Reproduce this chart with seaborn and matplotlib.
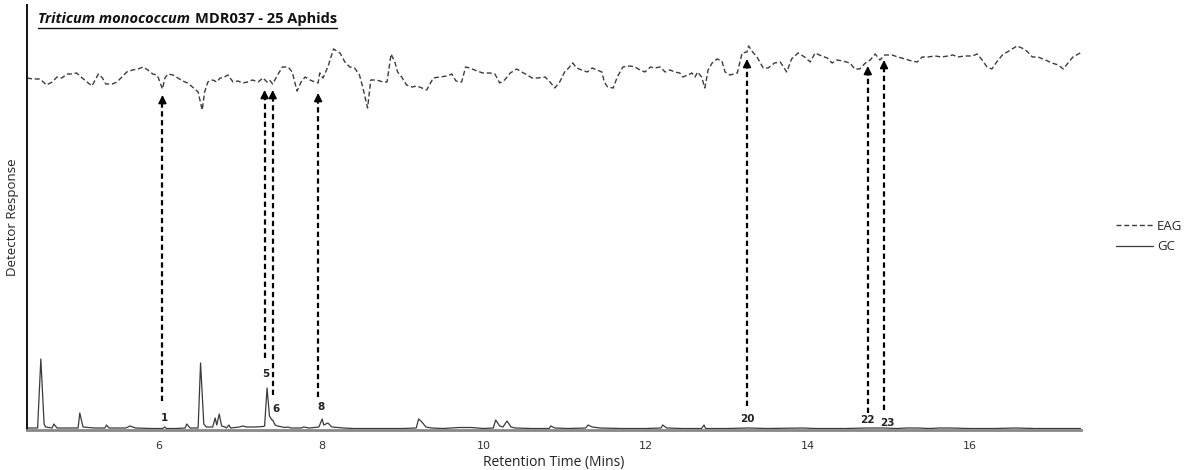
import matplotlib
matplotlib.use("Agg")
import matplotlib.pyplot as plt
import seaborn as sns
import pandas as pd
from matplotlib.lines import Line2D

# ---------------- data ----------------
# EAG trace: retention time (min) and response (arbitrary units)
eag_t = [4.37, 4.44, 4.53, 4.61, 4.68, 4.74, 4.80, 4.86, 4.92, 4.98, 5.05, 5.11, 5.17, 5.21,
         5.25, 5.30, 5.34, 5.42, 5.48, 5.54, 5.60, 5.67, 5.74, 5.80, 5.86, 5.92, 5.97, 5.99,
         6.04, 6.07, 6.11, 6.17, 6.23, 6.29, 6.35, 6.41, 6.48, 6.53, 6.56, 6.60, 6.66, 6.71,
         6.75, 6.78, 6.85, 6.91, 6.97, 7.03, 7.09, 7.15, 7.22, 7.28, 7.33, 7.36, 7.40, 7.46,
         7.52, 7.59, 7.64, 7.70, 7.75, 7.80, 7.86, 7.92, 7.96, 7.98, 8.02, 8.08, 8.15, 8.23,
         8.29, 8.35, 8.41, 8.47, 8.51, 8.57, 8.61, 8.68, 8.76, 8.81, 8.86, 8.91, 8.94, 8.99,
         9.05, 9.12, 9.18, 9.24, 9.30, 9.34, 9.38, 9.46, 9.55, 9.61, 9.66, 9.73, 9.78, 9.83,
         9.92, 9.99, 10.08, 10.14, 10.20, 10.26, 10.33, 10.41, 10.47, 10.54, 10.60, 10.67,
         10.76, 10.82, 10.88, 10.94, 11.00, 11.05, 11.10, 11.15, 11.21, 11.28, 11.34, 11.40,
         11.46, 11.49, 11.53, 11.60, 11.65, 11.72, 11.81, 11.87, 11.93, 11.99, 12.06, 12.11,
         12.18, 12.24, 12.30, 12.36, 12.42, 12.46, 12.52, 12.57, 12.61, 12.64, 12.69, 12.73,
         12.77, 12.82, 12.88, 12.94, 12.98, 13.04, 13.13, 13.19, 13.25, 13.27, 13.32, 13.38,
         13.45, 13.51, 13.59, 13.66, 13.74, 13.80, 13.88, 13.96, 14.03, 14.09, 14.17, 14.24,
         14.30, 14.36, 14.43, 14.52, 14.58, 14.64, 14.71, 14.77, 14.83, 14.89, 14.95, 15.04,
         15.11, 15.20, 15.28, 15.35, 15.41, 15.48, 15.57, 15.65, 15.73, 15.79, 15.85, 15.94,
         16.03, 16.09, 16.15, 16.21, 16.27, 16.33, 16.40, 16.46, 16.52, 16.58, 16.64, 16.70,
         16.77, 16.84, 16.93, 17.01, 17.09, 17.15, 17.21, 17.27, 17.36]
eag_v = [352, 351, 351, 345, 348, 353, 352, 356, 356, 357, 352, 348, 344, 350,
         356, 352, 346, 346, 348, 353, 358, 360, 361, 363, 360, 356, 355, 352,
         341, 352, 356, 355, 352, 349, 347, 343, 338, 320, 338, 348, 350, 348,
         352, 352, 355, 348, 349, 347, 348, 350, 348, 352, 348, 350, 346, 355,
         363, 363, 358, 339, 348, 353, 350, 348, 347, 357, 352, 363, 381, 377,
         368, 363, 362, 355, 343, 322, 350, 350, 348, 348, 376, 367, 358, 353,
         345, 343, 344, 342, 340, 346, 352, 353, 354, 356, 349, 348, 363, 362,
         359, 357, 357, 356, 347, 350, 357, 361, 358, 355, 352, 352,
         353, 348, 342, 348, 358, 362, 367, 362, 360, 358, 362, 360,
         358, 348, 343, 342, 353, 363, 364, 363, 360, 358, 363, 362,
         363, 358, 360, 358, 357, 353, 355, 357, 353, 358, 353, 342,
         360, 367, 371, 369, 358, 355, 357, 377, 378, 384, 378, 372,
         362, 362, 367, 368, 358, 371, 377, 373, 368, 377, 374, 372,
         367, 370, 369, 367, 361, 361, 367, 370, 376, 370, 375, 375,
         373, 371, 369, 368, 373, 373, 374, 373, 374, 375, 373, 374,
         374, 376, 370, 363, 361, 368, 375, 378, 381, 384, 382, 379,
         373, 373, 370, 367, 365, 361, 367, 373, 377]

# GC trace: retention time (min) and detector response
gc_t = [4.37, 4.45, 4.50, 4.54, 4.58, 4.60, 4.68, 4.70, 4.74, 4.85, 5.00, 5.02, 5.06,
        5.20, 5.33, 5.35, 5.38, 5.50, 5.59, 5.64, 5.71, 5.90, 6.04, 6.07, 6.09, 6.20,
        6.32, 6.34, 6.38, 6.48, 6.51, 6.55, 6.58, 6.66, 6.69, 6.71, 6.74, 6.77, 6.81,
        6.83, 6.86, 6.88, 6.99, 7.03, 7.08, 7.18, 7.28, 7.30, 7.33, 7.36, 7.39, 7.40,
        7.43, 7.46, 7.55, 7.59, 7.62, 7.75, 7.78, 7.85, 7.97, 8.01, 8.03, 8.08, 8.13,
        8.27, 8.40, 8.60, 8.80, 9.00, 9.17, 9.20, 9.24, 9.29, 9.36, 9.50, 9.70, 9.85,
        10.00, 10.12, 10.15, 10.20, 10.24, 10.29, 10.34, 10.39, 10.60, 10.81, 10.83,
        10.88, 11.05, 11.26, 11.29, 11.34, 11.44, 11.70, 12.00, 12.19, 12.21, 12.26,
        12.45, 12.69, 12.72, 12.74, 13.00, 13.26, 13.50, 13.94, 14.10, 14.30, 14.46,
        14.73, 14.95, 15.10, 15.22, 15.36, 15.50, 15.63, 15.75, 16.00, 16.30, 16.56,
        16.80, 17.10, 17.37]
gc_v = [2.0, 2.0, 2.0, 71, 6, 3, 2, 6, 2, 2, 2, 17, 3,
        2, 2, 5, 2, 2, 2, 4, 2, 1.5, 1.5, 3, 1.5, 1.5,
        2, 6, 2, 2, 67, 6, 3, 3, 12, 5, 16, 4, 3,
        2, 5, 2, 3, 4, 3, 3, 3.5, 4, 42, 14, 10, 10,
        5, 4, 2.5, 3, 2, 2, 3, 2, 3, 11, 5, 7, 3,
        2, 1.5, 1.5, 1.5, 1.5, 2, 11, 8, 3, 2, 1.5, 2.5, 2.5,
        1.5, 2, 10, 4, 3, 9, 3, 2, 1.5, 1.5, 4,
        2, 1.5, 2, 5, 3, 2, 1.5, 1.5, 2, 5, 2,
        1.5, 1.5, 5, 1.5, 1.5, 2, 1.5, 2, 1.5, 1.5, 1.5,
        2, 2, 1.5, 2, 2, 1.5, 2, 2, 1.5, 1.5, 2,
        1.5, 1.5, 1.5]

# Active compounds: label, retention time, arrow base and arrow tip (response units)
peak_labels = ["1", "5", "6", "8", "20", "22", "23"]
peak_times = [6.04, 7.30, 7.40, 7.96, 13.25, 14.74, 14.94]
arrow_base = [29, 72, 35, 33, 24, 17, 20]
arrow_tip = [335, 340, 340, 337, 371, 364, 370]
label_t = [6.07, 7.32, 7.44, 8.00, 13.26, 14.73, 14.98]
label_v = [12, 56, 21, 23, 11, 10, 7]

x_ticks = [6, 8, 10, 12, 14, 16]

# ---------------- figure ----------------
sns.set_theme(style="white")
plt.rcParams["font.family"] = ["Open Sans", "DejaVu Sans"]

fig = plt.figure(figsize=(11.92, 4.70), dpi=100)
ax = fig.add_axes([0.0227, 0.0851, 0.8842, 0.9043])

eag_df = pd.DataFrame({"t": eag_t, "v": eag_v})
gc_df = pd.DataFrame({"t": gc_t, "v": gc_v})

eag_style = (0, (3.6, 2.0))
sns.lineplot(data=eag_df, x="t", y="v", ax=ax, color="#3c3c3c", lw=1.0,
             linestyle=eag_style, label="EAG", sort=False)
sns.lineplot(data=gc_df, x="t", y="v", ax=ax, color="#3a3a3a", lw=0.9,
             label="GC", sort=False)

for t, b, tip in zip(peak_times, arrow_base, arrow_tip):
    ax.plot([t, t], [b, tip - 7], color="black", lw=1.6, linestyle=(0, (2.4, 1.6)))
    ax.annotate("", xy=(t, tip), xytext=(t, tip - 9),
                arrowprops=dict(arrowstyle="-|>", color="black", lw=1.2,
                                mutation_scale=12, shrinkA=0, shrinkB=0))

for lab, t, v in zip(peak_labels, label_t, label_v):
    ax.text(t, v, lab, ha="center", va="center", fontsize=7.5, fontweight="bold",
            family="DejaVu Sans", color="#222222")

ax.set_xlim(4.37, 17.37)
ax.set_ylim(0, 425)
ax.set_xticks(x_ticks)
ax.set_xticklabels([str(x) for x in x_ticks], fontsize=8, family="DejaVu Sans", color="#333333")
ax.set_yticks([])
ax.tick_params(axis="x", length=0, pad=8)
ax.set_xlabel("Retention Time (Mins)", fontsize=10, color="#222222", labelpad=3)
ax.set_ylabel("Detector Response", fontsize=9.5, color="#222222", labelpad=6)

for s in ["top", "right"]:
    ax.spines[s].set_visible(False)
ax.spines["left"].set_color("#111111")
ax.spines["left"].set_linewidth(1.4)
ax.spines["bottom"].set_color("#888888")
ax.spines["bottom"].set_linewidth(2.0)

# legend outside, right
handles = [Line2D([], [], color="#3c3c3c", lw=1.0, linestyle=eag_style),
           Line2D([], [], color="#3a3a3a", lw=0.9)]
ax.legend(handles, ["EAG", "GC"], loc="center left", bbox_to_anchor=(1.022, 0.455),
          frameon=False, fontsize=9.5, handlelength=2.8, handletextpad=0.3,
          labelspacing=0.55)

# title (italic species + plain text), underlined
t1 = fig.text(0.032, 0.952, "Triticum monococcum", fontsize=10.5, fontweight="bold",
              style="italic", color="#111111", va="baseline")
fig.canvas.draw()
bb1 = t1.get_window_extent()
inv = fig.transFigure.inverted()
x_end = inv.transform((bb1.x1, bb1.y0))[0]
t2 = fig.text(x_end + 0.004, 0.952, "MDR037 - 25 Aphids", fontsize=10.5, fontweight="bold",
              color="#111111", va="baseline")
fig.canvas.draw()
bb2 = t2.get_window_extent()
x0 = inv.transform((bb1.x0, 0))[0]
x1 = inv.transform((bb2.x1, 0))[0]
fig.add_artist(Line2D([x0, x1], [0.941, 0.941], transform=fig.transFigure,
                      color="#111111", lw=1.0))

fig.savefig("out.png", dpi=100)
